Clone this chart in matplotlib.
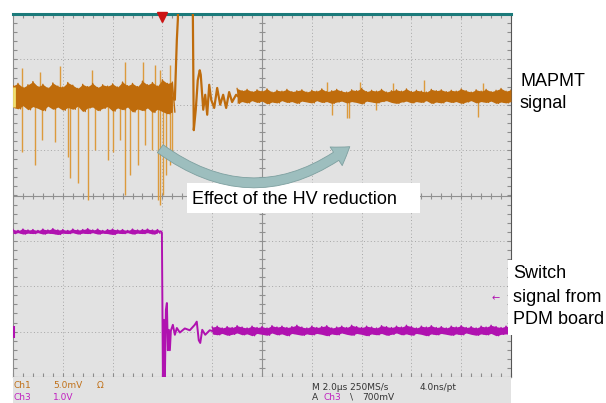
import numpy as np
import matplotlib.pyplot as plt
from matplotlib.patches import Rectangle, FancyArrowPatch

# scope screen in divisions: x 0..10 (2.0 us/div), y -4..4
# Ch1 (MAPMT) noise band before the HV reduction
ch1_pre_hi = [2.42, 2.47, 2.38, 2.44, 2.51, 2.40, 2.45, 2.37, 2.48, 2.41, 2.39,
              2.49, 2.43, 2.36, 2.45, 2.40, 2.47, 2.38, 2.44, 2.41, 2.46, 2.39,
              2.50, 2.42, 2.47, 2.40, 2.52, 2.44, 2.49, 2.41, 2.55, 2.47, 2.50]
ch1_pre_lo = [1.94, 1.91, 1.98, 1.89, 1.96, 1.92, 1.87, 1.97, 1.90, 1.95, 1.88,
              1.94, 1.90, 1.97, 1.85, 1.93, 1.95, 1.87, 1.92, 1.96, 1.86, 1.93,
              1.89, 1.95, 1.84, 1.91, 1.87, 1.93, 1.83, 1.90, 1.85, 1.80, 1.84]
# Ch1 spikes (position, end level)
ch1_spike_x = [0.18, 0.44, 0.58, 0.84, 1.10, 1.14, 1.31, 1.51, 1.65, 1.91, 2.01,
               2.15, 2.25, 2.35, 2.51, 2.65, 2.79, 2.91, 2.95, 3.01, 3.07, 3.15,
               3.19,
               0.18, 0.54, 0.94, 1.59, 2.25, 2.61, 2.85, 2.95, 3.15,
               6.31, 6.97, 7.63, 8.25, 9.44, 6.41, 6.71, 6.75, 7.29, 9.34]
ch1_spike_y = [0.96, 0.67, 1.22, 1.18, 0.85, 0.38, 0.28, -0.10, 1.00, 0.78, 0.96,
               1.22, 0.01, 0.45, 0.67, 1.11, 1.00, -0.10, -0.21, 0.01, 0.45, 0.67,
               0.78,
               2.81, 2.72, 2.85, 2.76, 2.94, 2.94, 2.87, 2.76, 2.87,
               2.50, 2.50, 2.48, 2.55, 2.48, 1.78, 1.71, 1.71, 1.89, 1.73]
# Ch1 event (overshoot off screen and ringing)
ch1_evt_x = [3.20, 3.25, 3.29, 3.31, 3.33, 3.59, 3.61, 3.63, 3.67, 3.71, 3.75, 3.77,
             3.82, 3.86, 3.90, 3.94, 3.98, 4.04, 4.10, 4.16, 4.22, 4.28, 4.34,
             4.40, 4.48, 4.56]
ch1_evt_y = [2.15, 2.11, 3.43, 3.87, 4.75, 4.75, 4.20, 1.44, 1.89, 2.54, 2.76, 2.66,
             1.89, 2.22, 1.78, 2.44, 2.11, 1.93, 2.37, 2.00, 2.22, 1.93, 2.28,
             2.06, 2.22, 2.15]
# Ch1 noise band after the HV reduction
ch1_post_hi = [2.36, 2.31, 2.34, 2.29, 2.33, 2.30, 2.35, 2.28,
               2.32, 2.30, 2.34, 2.29, 2.31, 2.33, 2.28, 2.32,
               2.30, 2.35, 2.29, 2.31, 2.34, 2.30, 2.28, 2.33,
               2.31, 2.36, 2.29, 2.32, 2.30, 2.34, 2.28, 2.31,
               2.33, 2.30, 2.35, 2.29, 2.32, 2.30, 2.28, 2.34,
               2.31, 2.33, 2.29, 2.32, 2.30, 2.35, 2.31, 2.28,
               2.33, 2.30, 2.34, 2.29, 2.32, 2.36, 2.30, 2.33]
ch1_post_lo = [2.03, 2.07, 2.04, 2.09, 2.05, 2.08, 2.02, 2.06,
               2.04, 2.09, 2.05, 2.07, 2.03, 2.08, 2.06, 2.04,
               2.09, 2.05, 2.07, 2.03, 2.06, 2.08, 2.04, 2.07,
               2.05, 2.02, 2.08, 2.06, 2.04, 2.07, 2.09, 2.05,
               2.03, 2.06, 2.08, 2.04, 2.07, 2.05, 2.09, 2.03,
               2.06, 2.04, 2.08, 2.05, 2.07, 2.03, 2.06, 2.09,
               2.04, 2.07, 2.05, 2.08, 2.03, 2.06, 2.04, 2.07]

# Ch3 (switch signal) high level
ch3_hi_hi = [-0.75, -0.77, -0.74, -0.76, -0.75, -0.77, -0.74, -0.76, -0.73, -0.76,
             -0.75, -0.77, -0.74, -0.76, -0.75, -0.73, -0.76, -0.74, -0.77, -0.75,
             -0.74, -0.76, -0.75, -0.77, -0.74, -0.76, -0.75, -0.74, -0.76, -0.75]
ch3_hi_lo = [-0.84, -0.82, -0.85, -0.83, -0.84, -0.82, -0.85, -0.83, -0.84, -0.86,
             -0.83, -0.84, -0.82, -0.85, -0.83, -0.84, -0.82, -0.85, -0.83, -0.84,
             -0.86, -0.83, -0.84, -0.82, -0.85, -0.83, -0.84, -0.82, -0.85, -0.83]
# Ch3 falling edge and ringing
ch3_edge_x = [2.90, 2.97, 2.99, 3.01, 3.03, 3.05, 3.07, 3.09, 3.11, 3.13, 3.15, 3.17,
              3.21, 3.25, 3.29, 3.35, 3.45, 3.55, 3.65, 3.69, 3.73, 3.76, 3.80,
              3.86, 3.95, 4.05]
ch3_edge_y = [-0.80, -0.79, -0.82, -4.00, -2.74, -4.00, -2.52, -2.37, -3.41, -2.96,
              -3.41, -2.98, -2.85, -3.07, -2.92, -3.02, -2.93, -2.97, -2.85, -2.78,
              -3.19, -3.25, -2.96, -3.07, -2.97, -3.00]
# Ch3 low level
ch3_lo_hi = [-2.90, -2.88, -2.92, -2.89, -2.91, -2.87, -2.90, -2.92, -2.88, -2.91,
             -2.89, -2.92, -2.87, -2.90, -2.88, -2.91, -2.89, -2.86, -2.90, -2.92,
             -2.88, -2.91, -2.89, -2.87, -2.92, -2.90, -2.88, -2.91, -2.86, -2.89,
             -2.91, -2.88, -2.90, -2.92, -2.87, -2.89, -2.91, -2.88, -2.90, -2.86,
             -2.89, -2.92, -2.88, -2.90, -2.87, -2.91, -2.89, -2.92, -2.88, -2.90,
             -2.87, -2.91, -2.89, -2.92, -2.88, -2.90, -2.86, -2.89, -2.91, -2.88,
             -2.90]
ch3_lo_lo = [-3.05, -3.07, -3.04, -3.08, -3.06, -3.03, -3.07, -3.05, -3.09, -3.04,
             -3.06, -3.08, -3.03, -3.07, -3.05, -3.09, -3.04, -3.06, -3.08, -3.05,
             -3.07, -3.04, -3.06, -3.09, -3.05, -3.07, -3.03, -3.06, -3.08, -3.04,
             -3.06, -3.09, -3.05, -3.07, -3.04, -3.08, -3.06, -3.03, -3.07, -3.05,
             -3.08, -3.04, -3.06, -3.09, -3.05, -3.07, -3.04, -3.06, -3.08, -3.05,
             -3.07, -3.03, -3.06, -3.08, -3.05, -3.07, -3.04, -3.09, -3.06, -3.05,
             -3.06]

ch1_base = 2.17
trig_x = 2.99
trig_level = -2.26

W, H = 606, 403
BG = '#e2e2e2'
ORANGE = '#bf6c0c'
ORANGE_L = '#dc9a3c'
PURPLE = '#b012b0'


def fx(px):
    return px / W


def fy(py):
    return 1 - py / H


def band(ax, x0, x1, hi, lo, color, lw):
    x = np.linspace(x0, x1, len(hi))
    ax.fill_between(x, lo, hi, color=color, lw=0, zorder=3)
    step = x[1] - x[0]
    zx = np.column_stack([x, x + step / 2]).ravel()
    zy = np.column_stack([hi, lo]).ravel()
    ax.plot(zx, zy, color=color, lw=lw, zorder=3)


fig = plt.figure(figsize=(W / 100, H / 100), dpi=100)

# readout strip under the graticule
fig.add_artist(Rectangle((fx(13), 0), fx(511) - fx(13), fy(377), transform=fig.transFigure,
                         facecolor=BG, edgecolor='none', zorder=1))

ax = fig.add_axes([fx(13), fy(377), fx(511) - fx(13), fy(14) - fy(377)])
ax.set_facecolor(BG)
ax.set_xlim(0, 10)
ax.set_ylim(-4, 4)
for side in ['left', 'bottom']:
    ax.spines[side].set_color('#8c8c8c')
ax.spines['right'].set_color('#555555')
ax.spines['top'].set_color('#1c7b7b')
ax.spines['top'].set_linewidth(2.2)
ax.set_xticks(np.arange(0, 10.01, 0.2))
ax.set_yticks(np.arange(-4, 4.01, 0.2))
ax.tick_params(direction='in', length=3, width=0.8, color='#8c8c8c', top=True, right=True,
               labelbottom=False, labelleft=False)

# graticule
for i in range(1, 10):
    if i != 5:
        ax.axvline(i, color='#a6a6a6', lw=0.7, ls=(0, (1, 2.5)), zorder=1)
for j in range(-3, 4):
    if j != 0:
        ax.axhline(j, color='#a6a6a6', lw=0.7, ls=(0, (1, 2.5)), zorder=1)
ax.axvline(5, color='#909090', lw=0.8, zorder=1)
ax.axhline(0, color='#909090', lw=0.8, zorder=1)
cx = np.arange(0, 10.01, 0.2)
cy = np.arange(-4, 4.01, 0.2)
ax.plot(cx, np.zeros_like(cx), ls='none', marker='|', ms=5, mew=0.8, color='#909090', zorder=1)
ax.plot(np.full_like(cy, 5), cy, ls='none', marker='_', ms=5, mew=0.8, color='#909090', zorder=1)

# Ch1 trace
ax.vlines(ch1_spike_x, ch1_base, ch1_spike_y, color=ORANGE_L, lw=1.0, zorder=2)
band(ax, 0, 3.2, ch1_pre_hi, ch1_pre_lo, ORANGE, 1.0)
band(ax, 4.5, 10, ch1_post_hi, ch1_post_lo, ORANGE, 0.9)
ax.plot(ch1_evt_x, ch1_evt_y, color=ORANGE, lw=1.6, zorder=3)

# Ch3 trace
band(ax, 0, 2.9, ch3_hi_hi, ch3_hi_lo, PURPLE, 1.0)
ax.plot(ch3_edge_x, ch3_edge_y, color=PURPLE, lw=1.4, zorder=3)
band(ax, 4.0, 10, ch3_lo_hi, ch3_lo_lo, PURPLE, 1.0)

# markers: trigger position, channel grounds, trigger level
ax.plot([trig_x], [3.93], marker='v', ms=7, color='#cc1414', clip_on=False, zorder=5)
ax.plot([0.03], [ch1_base], marker='|', ms=14, mew=2, color='#f0e070', zorder=4)
ax.plot([0.03], [-3.0], marker='|', ms=8, mew=1.5, color=PURPLE, zorder=4)
ax.text(9.7, trig_level, '\u2190', color=PURPLE, fontsize=7, ha='center', va='center', zorder=4)

# readout text
ro = dict(fontsize=6.5, family='DejaVu Sans', va='center', zorder=3)
fig.text(fx(13), fy(385), 'Ch1', color='#c07018', **ro)
fig.text(fx(53), fy(385), '5.0mV', color='#c07018', **ro)
fig.text(fx(97), fy(385), '\u03a9', color='#c07018', **ro)
fig.text(fx(13), fy(397), 'Ch3', color='#c020c0', **ro)
fig.text(fx(53), fy(397), '1.0V', color='#c020c0', **ro)
fig.text(fx(312), fy(387), 'M 2.0\u00b5s 250MS/s', color='#333333', **ro)
fig.text(fx(420), fy(387), '4.0ns/pt', color='#333333', **ro)
fig.text(fx(312), fy(397), 'A', color='#333333', **ro)
fig.text(fx(323), fy(397), 'Ch3', color='#c020c0', **ro)
fig.text(fx(350), fy(397), '\\', color='#333333', **ro)
fig.text(fx(362), fy(397), '700mV', color='#333333', **ro)

# annotations
lab = dict(fontsize=13, family='Liberation Sans', color='black', va='center', zorder=6)
fig.add_artist(Rectangle((fx(187), fy(213)), fx(420) - fx(187), fy(183) - fy(213),
                         transform=fig.transFigure, facecolor='white', edgecolor='none', zorder=4))
fig.add_artist(Rectangle((fx(508), fy(335)), 1 - fx(508), fy(260) - fy(335),
                         transform=fig.transFigure, facecolor='white', edgecolor='none', zorder=4))
fig.text(fx(192), fy(199), 'Effect of the HV reduction', **lab)
fig.text(fx(520), fy(81), 'MAPMT', **lab)
fig.text(fx(520), fy(103), 'signal', **lab)
fig.text(fx(513), fy(274), 'Switch', **lab)
fig.text(fx(513), fy(297), 'signal from', **lab)
fig.text(fx(513), fy(319), 'PDM board', **lab)

arrow = FancyArrowPatch((fx(158), fy(147)), (fx(352), fy(145)), transform=fig.transFigure,
                        connectionstyle='arc3,rad=0.38',
                        arrowstyle='simple,head_width=16,head_length=12,tail_width=7',
                        facecolor='#9dbebe', edgecolor='#7ea0a0', lw=0.6, zorder=5)
fig.add_artist(arrow)

fig.savefig('out.png', dpi=100)
